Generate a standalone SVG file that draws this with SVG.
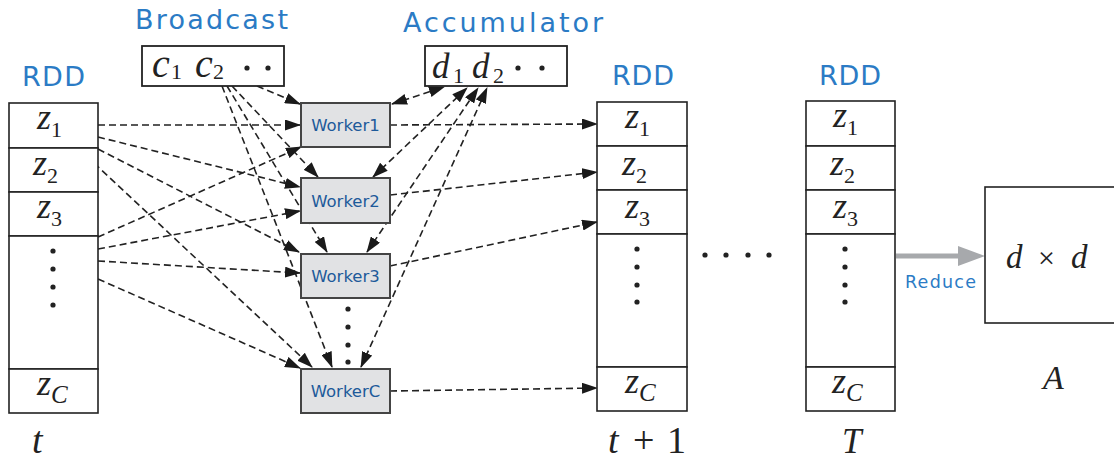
<svg xmlns="http://www.w3.org/2000/svg" width="1114" height="464" viewBox="0 0 1114 464">
<style>
.hd{font-family:"DejaVu Sans","Liberation Sans",sans-serif;fill:#2b7bc5;}
.wk{font-family:"DejaVu Sans","Liberation Sans",sans-serif;font-size:16.5px;fill:#1d5a9a;text-anchor:middle;}
.m{font-family:"Liberation Serif","DejaVu Serif",serif;font-style:italic;fill:#222;}
.up{font-style:normal;}
.cell{fill:#fff;stroke:#222;stroke-width:1.6;}
.wbox{fill:#e1e2e4;stroke:#444;stroke-width:2;}
.dash{fill:none;stroke:#222;stroke-width:1.6;stroke-dasharray:7 4;marker-end:url(#ah);}
.bi{marker-start:url(#ah);}
.dot{fill:#222;}
</style>
<defs>
<marker id="ah" markerUnits="userSpaceOnUse" markerWidth="16" markerHeight="11" refX="15" refY="5.5" orient="auto-start-reverse">
<path d="M0,0 L16,5.5 L0,11 z" fill="#1a1a1a"/>
</marker>
</defs>

<g id="labels">
<text class="hd" x="135" y="29" font-size="27" textLength="153">Broadcast</text>
<text class="hd" x="403" y="32" font-size="27" textLength="200">Accumulator</text>
<text class="hd" x="22" y="86" font-size="27" textLength="63">RDD</text>
<text class="hd" x="612" y="85" font-size="27" textLength="62">RDD</text>
<text class="hd" x="819" y="85" font-size="27" textLength="62">RDD</text>
<text class="m" x="32" y="453" font-size="38">t</text>
<text class="m" y="453" font-size="38"><tspan x="608">t</tspan><tspan class="up" x="633">+</tspan><tspan class="up" x="667">1</tspan></text>
<text class="m" x="842" y="453" font-size="35">T</text>
<text class="m" x="1043" y="389" font-size="34">A</text>
</g>

<g id="connectors">
<line class="dash" x1="257" y1="86" x2="300" y2="104"/>
<line class="dash" x1="232" y1="86" x2="318" y2="177"/>
<line class="dash" x1="227" y1="86" x2="327" y2="252"/>
<line class="dash" x1="222" y1="86" x2="332" y2="367"/>
<line class="dash" x1="98" y1="125" x2="300" y2="125"/>
<line class="dash" x1="98" y1="137" x2="300" y2="187"/>
<line class="dash" x1="98" y1="149" x2="299" y2="252"/>
<line class="dash" x1="78" y1="148" x2="312" y2="367"/>
<line class="dash" x1="98" y1="237" x2="301" y2="147"/>
<line class="dash" x1="98" y1="249" x2="300" y2="211"/>
<line class="dash" x1="98" y1="261" x2="300" y2="273"/>
<line class="dash" x1="98" y1="279" x2="300" y2="368"/>
<line class="dash bi" x1="392" y1="104" x2="444" y2="87"/>
<line class="dash bi" x1="373" y1="177" x2="467" y2="88"/>
<line class="dash bi" x1="367" y1="252" x2="478" y2="88"/>
<line class="dash bi" x1="361" y1="367" x2="487" y2="88"/>
<line class="dash" x1="390" y1="125" x2="597" y2="124"/>
<line class="dash" x1="390" y1="195" x2="597" y2="172"/>
<line class="dash" x1="390" y1="266" x2="597" y2="222"/>
<line class="dash" x1="390" y1="391" x2="597" y2="388"/>
<line x1="896" y1="256" x2="960" y2="256" stroke="#a7a9ac" stroke-width="5"/>
<polygon points="958,246 985,256 958,266" fill="#a7a9ac"/>
</g>

<g id="broadcast">
<rect x="142" y="46" width="142" height="40" fill="#fff" stroke="#222" stroke-width="1.8"/>
<text class="m" font-size="40" x="152" y="77">c</text>
<text class="m up" font-size="22" x="171" y="79">1</text>
<text class="m" font-size="40" x="195" y="77">c</text>
<text class="m up" font-size="22" x="213" y="79">2</text>
<circle class="dot" cx="247" cy="68" r="2.6"/>
<circle class="dot" cx="268" cy="68" r="2.6"/>
</g>

<g id="accumulator">
<rect x="425" y="46" width="142" height="40" fill="#fff" stroke="#222" stroke-width="1.8"/>
<text class="m" font-size="35" x="432" y="78">d</text>
<text class="m up" font-size="22" x="453" y="83">1</text>
<text class="m" font-size="35" x="472" y="78">d</text>
<text class="m up" font-size="22" x="493" y="83">2</text>
<circle class="dot" cx="518" cy="68" r="2.6"/>
<circle class="dot" cx="542" cy="68" r="2.6"/>
</g>

<g id="rdd-t">
<rect class="cell" x="9" y="103" width="89" height="45"/>
<rect class="cell" x="9" y="148" width="89" height="44"/>
<rect class="cell" x="9" y="192" width="89" height="44"/>
<rect class="cell" x="9" y="236" width="89" height="133"/>
<rect class="cell" x="9" y="369" width="89" height="44"/>
<text class="m" font-size="36" x="37" y="129">z<tspan class="up" font-size="22" dy="8">1</tspan></text>
<text class="m" font-size="36" x="33" y="175">z<tspan class="up" font-size="22" dy="8">2</tspan></text>
<text class="m" font-size="36" x="37" y="218">z<tspan class="up" font-size="22" dy="8">3</tspan></text>
<text class="m" font-size="36" x="37" y="395">z<tspan font-size="25" dy="8">C</tspan></text>
<circle class="dot" cx="53" cy="251" r="2.6"/>
<circle class="dot" cx="53" cy="269" r="2.6"/>
<circle class="dot" cx="53" cy="287" r="2.6"/>
<circle class="dot" cx="53" cy="305" r="2.6"/>
</g>

<g id="worker1">
<rect class="wbox" x="301" y="103" width="89" height="44"/>
<text class="wk" x="345.5" y="131">Worker1</text>
</g>
<g id="worker2">
<rect class="wbox" x="301" y="178" width="89" height="45"/>
<text class="wk" x="345.5" y="207">Worker2</text>
</g>
<g id="worker3">
<rect class="wbox" x="301" y="254" width="89" height="44"/>
<text class="wk" x="345.5" y="282">Worker3</text>
</g>
<g id="workerC">
<rect class="wbox" x="301" y="369" width="89" height="44"/>
<text class="wk" x="345.5" y="397">WorkerC</text>
</g>
<g id="worker-dots">
<circle class="dot" cx="348" cy="309" r="2.6"/>
<circle class="dot" cx="348" cy="327" r="2.6"/>
<circle class="dot" cx="348" cy="345" r="2.6"/>
<circle class="dot" cx="348" cy="362" r="2.6"/>
</g>

<g id="rdd-t1">
<rect class="cell" x="597" y="102" width="90" height="44"/>
<rect class="cell" x="597" y="146" width="90" height="44"/>
<rect class="cell" x="597" y="190" width="90" height="44"/>
<rect class="cell" x="597" y="234" width="90" height="133"/>
<rect class="cell" x="597" y="367" width="90" height="44"/>
<text class="m" font-size="36" x="625" y="128">z<tspan class="up" font-size="22" dy="8">1</tspan></text>
<text class="m" font-size="36" x="622" y="175">z<tspan class="up" font-size="22" dy="8">2</tspan></text>
<text class="m" font-size="36" x="625" y="218">z<tspan class="up" font-size="22" dy="8">3</tspan></text>
<text class="m" font-size="36" x="625" y="393">z<tspan font-size="25" dy="8">C</tspan></text>
<circle class="dot" cx="637" cy="249" r="2.6"/>
<circle class="dot" cx="637" cy="267" r="2.6"/>
<circle class="dot" cx="637" cy="285" r="2.6"/>
<circle class="dot" cx="637" cy="302" r="2.6"/>
</g>

<g id="ellipsis">
<circle class="dot" cx="705" cy="255" r="2.6"/>
<circle class="dot" cx="726" cy="255" r="2.6"/>
<circle class="dot" cx="748" cy="255" r="2.6"/>
<circle class="dot" cx="769" cy="255" r="2.6"/>
</g>

<g id="rdd-T">
<rect class="cell" x="806" y="101" width="89" height="45"/>
<rect class="cell" x="806" y="146" width="89" height="44"/>
<rect class="cell" x="806" y="190" width="89" height="44"/>
<rect class="cell" x="806" y="234" width="89" height="133"/>
<rect class="cell" x="806" y="367" width="89" height="44"/>
<text class="m" font-size="36" x="833" y="127">z<tspan class="up" font-size="22" dy="8">1</tspan></text>
<text class="m" font-size="36" x="830" y="175">z<tspan class="up" font-size="22" dy="8">2</tspan></text>
<text class="m" font-size="36" x="833" y="218">z<tspan class="up" font-size="22" dy="8">3</tspan></text>
<text class="m" font-size="36" x="832" y="393">z<tspan font-size="25" dy="8">C</tspan></text>
<circle class="dot" cx="845" cy="249" r="2.6"/>
<circle class="dot" cx="845" cy="267" r="2.6"/>
<circle class="dot" cx="845" cy="285" r="2.6"/>
<circle class="dot" cx="845" cy="302" r="2.6"/>
</g>

<g id="reduce-label">
<text class="hd" x="905" y="288" font-size="17.5" textLength="71">Reduce</text>
</g>

<g id="matrixA">
<rect x="985" y="187" width="140" height="136" fill="#fff" stroke="#222" stroke-width="1.6"/>
<text class="m" font-size="33" x="1006" y="268">d</text>
<text class="m up" font-size="30" x="1038" y="268">×</text>
<text class="m" font-size="33" x="1071" y="268">d</text>
</g>
</svg>
